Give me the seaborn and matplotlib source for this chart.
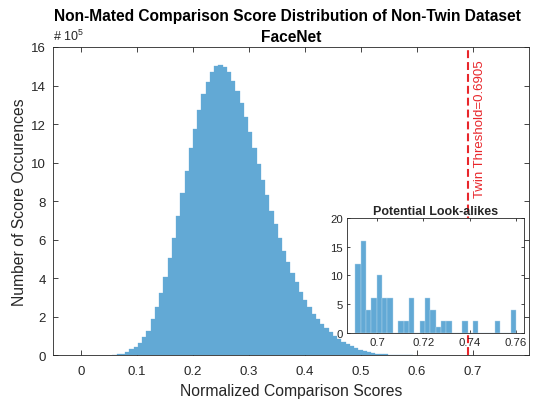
import numpy as np
import pandas as pd
import matplotlib
matplotlib.use("Agg")
import matplotlib.pyplot as plt
import seaborn as sns

# Main distribution: bin layout and counts (in units of 1e5)
bin_start = 0.0561
bin_width = 0.00757
main_counts = [
    0.01, 0.03, 0.07, 0.15, 0.30, 0.43, 0.60, 0.92, 1.26, 1.87,
    2.48, 3.20, 4.03, 5.02, 6.08, 7.24, 8.40, 9.54, 10.74, 11.74,
    12.73, 13.56, 14.20, 14.72, 15.00, 15.05, 14.95, 14.68, 14.25, 13.73,
    13.09, 12.35, 11.57, 10.74, 9.92, 9.10, 8.33, 7.50, 6.80, 6.06,
    5.42, 4.82, 4.26, 3.78, 3.29, 2.87, 2.48, 2.13, 1.85, 1.61,
    1.38, 1.18, 1.00, 0.83, 0.69, 0.57, 0.45, 0.35, 0.26, 0.19,
    0.14, 0.09, 0.07, 0.05, 0.035, 0.025, 0.016, 0.010, 0.006, 0.004,
    0.002,
]
threshold = 0.6905

# Inset: scores above the twin threshold
inset_start = 0.6905
inset_width = 0.002317
inset_counts = [12, 16, 4, 6, 10, 6, 6, 0, 2, 2,
                6, 0, 2, 6, 4, 1, 2, 2, 0, 0,
                2, 0, 2, 0, 0, 0, 2, 0, 0, 4]

main_xticks = [0, 0.1, 0.2, 0.3, 0.4, 0.5, 0.6, 0.7]
main_xticklabels = ["0", "0.1", "0.2", "0.3", "0.4", "0.5", "0.6", "0.7"]
main_yticks = [0, 2, 4, 6, 8, 10, 12, 14, 16]
inset_xticks = [0.7, 0.72, 0.74, 0.76]
inset_xticklabels = ["0.7", "0.72", "0.74", "0.76"]
inset_yticks = [0, 5, 10, 15, 20]

sns.set_style("ticks")
plt.rcParams["font.family"] = ["Liberation Sans", "DejaVu Sans"]
plt.rcParams["mathtext.default"] = "regular"

bar_color = "#62a9d5"
axis_color = "#262626"
red = "#e8262b"

main_edges = [bin_start + bin_width * i for i in range(len(main_counts) + 1)]
main_df = pd.DataFrame({"score": [(a + b) / 2 for a, b in zip(main_edges[:-1], main_edges[1:])],
                        "count": main_counts})
inset_edges = [inset_start + inset_width * i for i in range(len(inset_counts) + 1)]
inset_df = pd.DataFrame({"score": [(a + b) / 2 for a, b in zip(inset_edges[:-1], inset_edges[1:])],
                         "count": inset_counts})

fig = plt.figure(figsize=(5.34, 4.02), dpi=100)
ax = fig.add_axes([0.0993, 0.1144, 0.8914, 0.7662])

sns.histplot(data=main_df, x="score", weights="count", bins=main_edges,
             color=bar_color, alpha=1, edgecolor=bar_color, linewidth=0.2, ax=ax)
ax.axvline(threshold, color=red, linewidth=1.5, dashes=(3.8, 1.9), zorder=3)
ax.text(0.7125, 8.2, "Twin Threshold=0.6905", rotation=90, color=red,
        ha="center", va="bottom", fontsize=9.5)

ax.set_xlim(-0.05, 0.8)
ax.set_ylim(0, 16)
ax.set_xticks(main_xticks)
ax.set_xticklabels(main_xticklabels)
ax.set_yticks(main_yticks)
ax.tick_params(direction="in", top=True, right=True, length=3.5, width=0.6,
               color=axis_color, labelsize=9.5, labelcolor=axis_color)
ax.tick_params(axis="x", pad=7.5)
ax.tick_params(axis="y", pad=5)
for s in ax.spines.values():
    s.set_visible(True)
    s.set_linewidth(0.6)
    s.set_color(axis_color)

ax.set_xlabel("Normalized Comparison Scores", fontsize=11.3, color=axis_color, labelpad=4)
ax.set_ylabel("Number of Score Occurences", fontsize=11.3, color=axis_color, labelpad=3)

# two-line title: first line on the figure, second as the axes title
fig.text(287 / 534, 1 - 17 / 402, "Non-Mated Comparison Score Distribution of Non-Twin Dataset",
         ha="center", va="center", fontsize=11.2, fontweight="bold", color="black")
ax.set_title("FaceNet", fontsize=11.2, fontweight="bold", color="black", pad=4.5)
ax.text(0.0, 1.012, "# 10$^{5}$", transform=ax.transAxes, ha="left", va="bottom",
        fontsize=9, color=axis_color)

# Inset
axin = fig.add_axes([0.6498, 0.1692, 0.3315, 0.2861])
axin.set_facecolor("white")
sns.histplot(data=inset_df, x="score", weights="count", bins=inset_edges,
             color=bar_color, alpha=1, edgecolor="#b5d6ec", linewidth=0.3, ax=axin)
axin.set_xlim(0.6869, 0.7635)
axin.set_ylim(0, 20)
axin.set_xticks(inset_xticks)
axin.set_xticklabels(inset_xticklabels)
axin.set_yticks(inset_yticks)
axin.set_xlabel("")
axin.set_ylabel("")
axin.tick_params(direction="in", top=True, right=True, length=2.5, width=0.6,
                 color=axis_color, labelsize=8.2, labelcolor=axis_color, pad=3)
for s in axin.spines.values():
    s.set_visible(True)
    s.set_linewidth(0.6)
    s.set_color(axis_color)
axin.set_title("Potential Look-alikes", fontsize=9, fontweight="bold", pad=2.5)

fig.savefig("out.png", dpi=100)
